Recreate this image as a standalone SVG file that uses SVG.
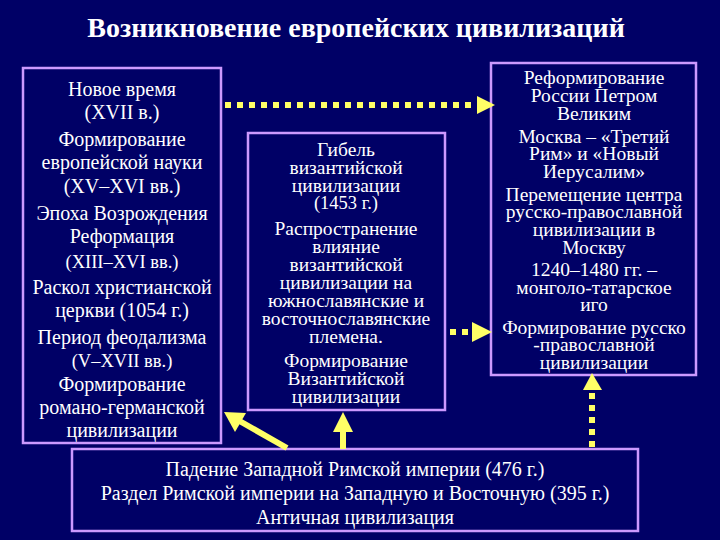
<svg xmlns="http://www.w3.org/2000/svg" width="720" height="540" viewBox="0 0 720 540">
<style>
.box{fill:#000066;stroke:#cc99ff;stroke-width:2.5}
text{fill:#ffffff;text-anchor:middle}
.l{font-size:20px}
.m{font-size:19.5px}
.s{font-size:18.5px}
.dot{stroke:#ffff66;stroke-width:6;fill:none;stroke-dasharray:6 6}
.solid{stroke:#ffff66;stroke-width:6;fill:none}
.head{fill:#ffff66}
</style>
<rect x="0" y="0" width="720" height="540" fill="#000066"/>
<g font-family="'Liberation Serif', 'Times New Roman', serif">
<text x="356" y="37" font-size="28" font-weight="bold">Возникновение европейских цивилизаций</text>

<g id="left">
<rect class="box" x="23" y="68" width="198" height="375"/>
<text class="l" x="122" y="96">Новое время</text>
<text class="l" x="122" y="119">(XVII в.)</text>
<text class="l" x="122" y="146">Формирование</text>
<text class="l" x="122" y="169">европейской науки</text>
<text class="l" x="122" y="193">(XV–XVI вв.)</text>
<text class="l" x="122" y="220">Эпоха Возрождения</text>
<text class="l" x="122" y="243">Реформация</text>
<text class="s" x="122" y="268">(XIII–XVI вв.)</text>
<text class="l" x="122" y="294">Раскол христианской</text>
<text class="l" x="122" y="317">церкви (1054 г.)</text>
<text class="l" x="122" y="344">Период феодализма</text>
<text class="s" x="122" y="367">(V–XVII вв.)</text>
<text class="l" x="122" y="391">Формирование</text>
<text class="l" x="122" y="414">романо-германской</text>
<text class="l" x="122" y="437">цивилизации</text>
</g>

<g id="middle">
<rect class="box" x="248" y="133" width="197" height="277"/>
<text class="m" x="346" y="156">Гибель</text>
<text class="m" x="346" y="174">византийской</text>
<text class="m" x="346" y="192">цивилизации</text>
<text class="s" x="346" y="209">(1453 г.)</text>
<text class="m" x="346" y="235">Распространение</text>
<text class="m" x="346" y="253">влияние</text>
<text class="m" x="346" y="271">византийской</text>
<text class="m" x="346" y="289">цивилизации на</text>
<text class="m" x="346" y="307">южнославянские и</text>
<text class="m" x="346" y="325">восточнославянские</text>
<text class="m" x="346" y="343">племена.</text>
<text class="m" x="346" y="367">Формирование</text>
<text class="m" x="346" y="385">Византийской</text>
<text class="m" x="346" y="403">цивилизации</text>
</g>

<g id="right">
<rect class="box" x="491" y="63" width="205" height="312"/>
<text class="m" x="594" y="84">Реформирование</text>
<text class="m" x="594" y="102">России Петром</text>
<text class="m" x="594" y="120">Великим</text>
<text class="m" x="594" y="143">Москва – «Третий</text>
<text class="m" x="594" y="160">Рим» и «Новый</text>
<text class="m" x="594" y="178">Иерусалим»</text>
<text class="m" x="594" y="201">Перемещение центра</text>
<text class="m" x="594" y="218">русско-православной</text>
<text class="m" x="594" y="236">цивилизации в</text>
<text class="m" x="594" y="254">Москву</text>
<text class="m" x="594" y="276">1240–1480 гг. –</text>
<text class="m" x="594" y="294">монголо-татарское</text>
<text class="m" x="594" y="311">иго</text>
<text class="m" x="594" y="334">Формирование русско</text>
<text class="m" x="594" y="351">-православной</text>
<text class="m" x="594" y="369">цивилизации</text>
</g>

<g id="bottom">
<rect class="box" x="72" y="449" width="566" height="82"/>
<text class="l" x="355" y="476">Падение Западной Римской империи (476 г.)</text>
<text class="l" x="355" y="500">Раздел Римской империи на Западную и Восточную (395 г.)</text>
<text class="l" x="355" y="524">Античная цивилизация</text>
</g>
</g>

<g id="connectors">
<line class="dot" x1="225" y1="105" x2="474" y2="105"/>
<polygon class="head" points="477,96 495,105 477,114"/>
<line class="dot" x1="450" y1="332" x2="470" y2="332"/>
<polygon class="head" points="472,322 492,332 472,342"/>
<line class="dot" x1="592" y1="447" x2="592" y2="392"/>
<polygon class="head" points="583,390 592,373 602,390"/>
<line class="solid" x1="343" y1="449" x2="343" y2="430"/>
<polygon class="head" points="333,432 343,412 353,432"/>
<line class="solid" x1="287" y1="448" x2="236" y2="419"/>
<polygon class="head" points="224,412 246,413 235,432"/>
</g>
</svg>
